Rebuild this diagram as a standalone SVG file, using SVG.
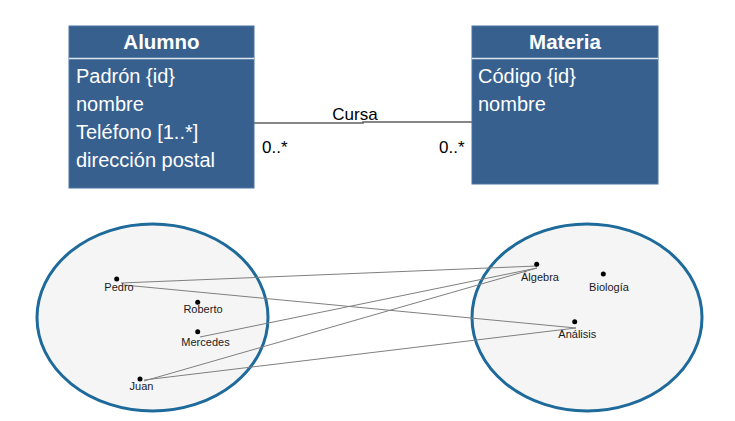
<svg xmlns="http://www.w3.org/2000/svg" width="735" height="421" viewBox="0 0 735 421">
<style>
.box{fill:#37608F;stroke:#4A74A3;stroke-width:1}
.div{stroke:#DDE6F0;stroke-width:1.5}
.hdr{font-family:"Liberation Sans",Arial,sans-serif;font-weight:bold;font-size:20.5px;fill:#fff;text-anchor:middle}
.att{font-family:"Liberation Sans",Arial,sans-serif;font-size:20px;fill:#fff}
.lbl{font-family:"Liberation Sans",Arial,sans-serif;font-size:17px;fill:#000}
.set{fill:#F5F5F5;stroke:#1D6A9B;stroke-width:3}
.dot{fill:#000}
.nm{font-family:"Liberation Sans",Arial,sans-serif;font-size:11px;fill:#1a1a1a;text-anchor:middle}
.lnk{stroke:#7F7F7F;stroke-width:1;fill:none}
.assoc{stroke:#606060;stroke-width:1.5;fill:none}
</style>
<rect width="735" height="421" fill="#fff"/>
<g id="alumno">
<rect class="box" x="69" y="26" width="185" height="162"/>
<line class="div" x1="69" y1="58.5" x2="254" y2="58.5"/>
<text class="hdr" x="161.5" y="49">Alumno</text>
<text class="att" x="76" y="83">Padrón {id}</text>
<text class="att" x="76" y="111">nombre</text>
<text class="att" x="76" y="139">Teléfono [1..*]</text>
<text class="att" x="76" y="167">dirección postal</text>
</g>
<g id="materia">
<rect class="box" x="472" y="26" width="186" height="158"/>
<line class="div" x1="472" y1="58.5" x2="658" y2="58.5"/>
<text class="hdr" x="565" y="49">Materia</text>
<text class="att" x="478" y="83">Código {id}</text>
<text class="att" x="478" y="111">nombre</text>
</g>
<g id="connectors">
<polyline class="assoc" points="254,123 363,123 363,122 472,122"/>
<text class="lbl" x="355" y="120" text-anchor="middle">Cursa</text>
<text class="lbl" x="262" y="153">0..*</text>
<text class="lbl" x="439" y="153">0..*</text>
</g>
<g id="alumnos-set">
<ellipse class="set" cx="152.5" cy="317.5" rx="115.5" ry="93.5"/>
</g>
<g id="materias-set">
<ellipse class="set" cx="587" cy="317.5" rx="115" ry="93.5"/>
</g>
<g id="links">
<line class="lnk" x1="121" y1="283" x2="537" y2="266"/>
<line class="lnk" x1="124" y1="285" x2="576" y2="328"/>
<line class="lnk" x1="200" y1="337" x2="537" y2="268"/>
<line class="lnk" x1="144" y1="381" x2="537" y2="268"/>
<line class="lnk" x1="144" y1="380" x2="576" y2="328"/>
</g>
<g id="pedro"><circle class="dot" cx="116.7" cy="279" r="2.5"/><text class="nm" x="119" y="291">Pedro</text></g>
<g id="roberto"><circle class="dot" cx="197.7" cy="302.3" r="2.5"/><text class="nm" x="203" y="313">Roberto</text></g>
<g id="mercedes"><circle class="dot" cx="197.7" cy="331.7" r="2.5"/><text class="nm" x="205.5" y="346">Mercedes</text></g>
<g id="juan"><circle class="dot" cx="140" cy="379" r="2.5"/><text class="nm" x="141.5" y="390">Juan</text></g>
<g id="algebra"><circle class="dot" cx="536.7" cy="264.3" r="2.5"/><text class="nm" x="540" y="281">Álgebra</text></g>
<g id="biologia"><circle class="dot" cx="603.3" cy="274" r="2.5"/><text class="nm" x="609" y="291">Biología</text></g>
<g id="analisis"><circle class="dot" cx="574.7" cy="321.7" r="2.5"/><text class="nm" x="577.3" y="338">Análisis</text></g>
</svg>
